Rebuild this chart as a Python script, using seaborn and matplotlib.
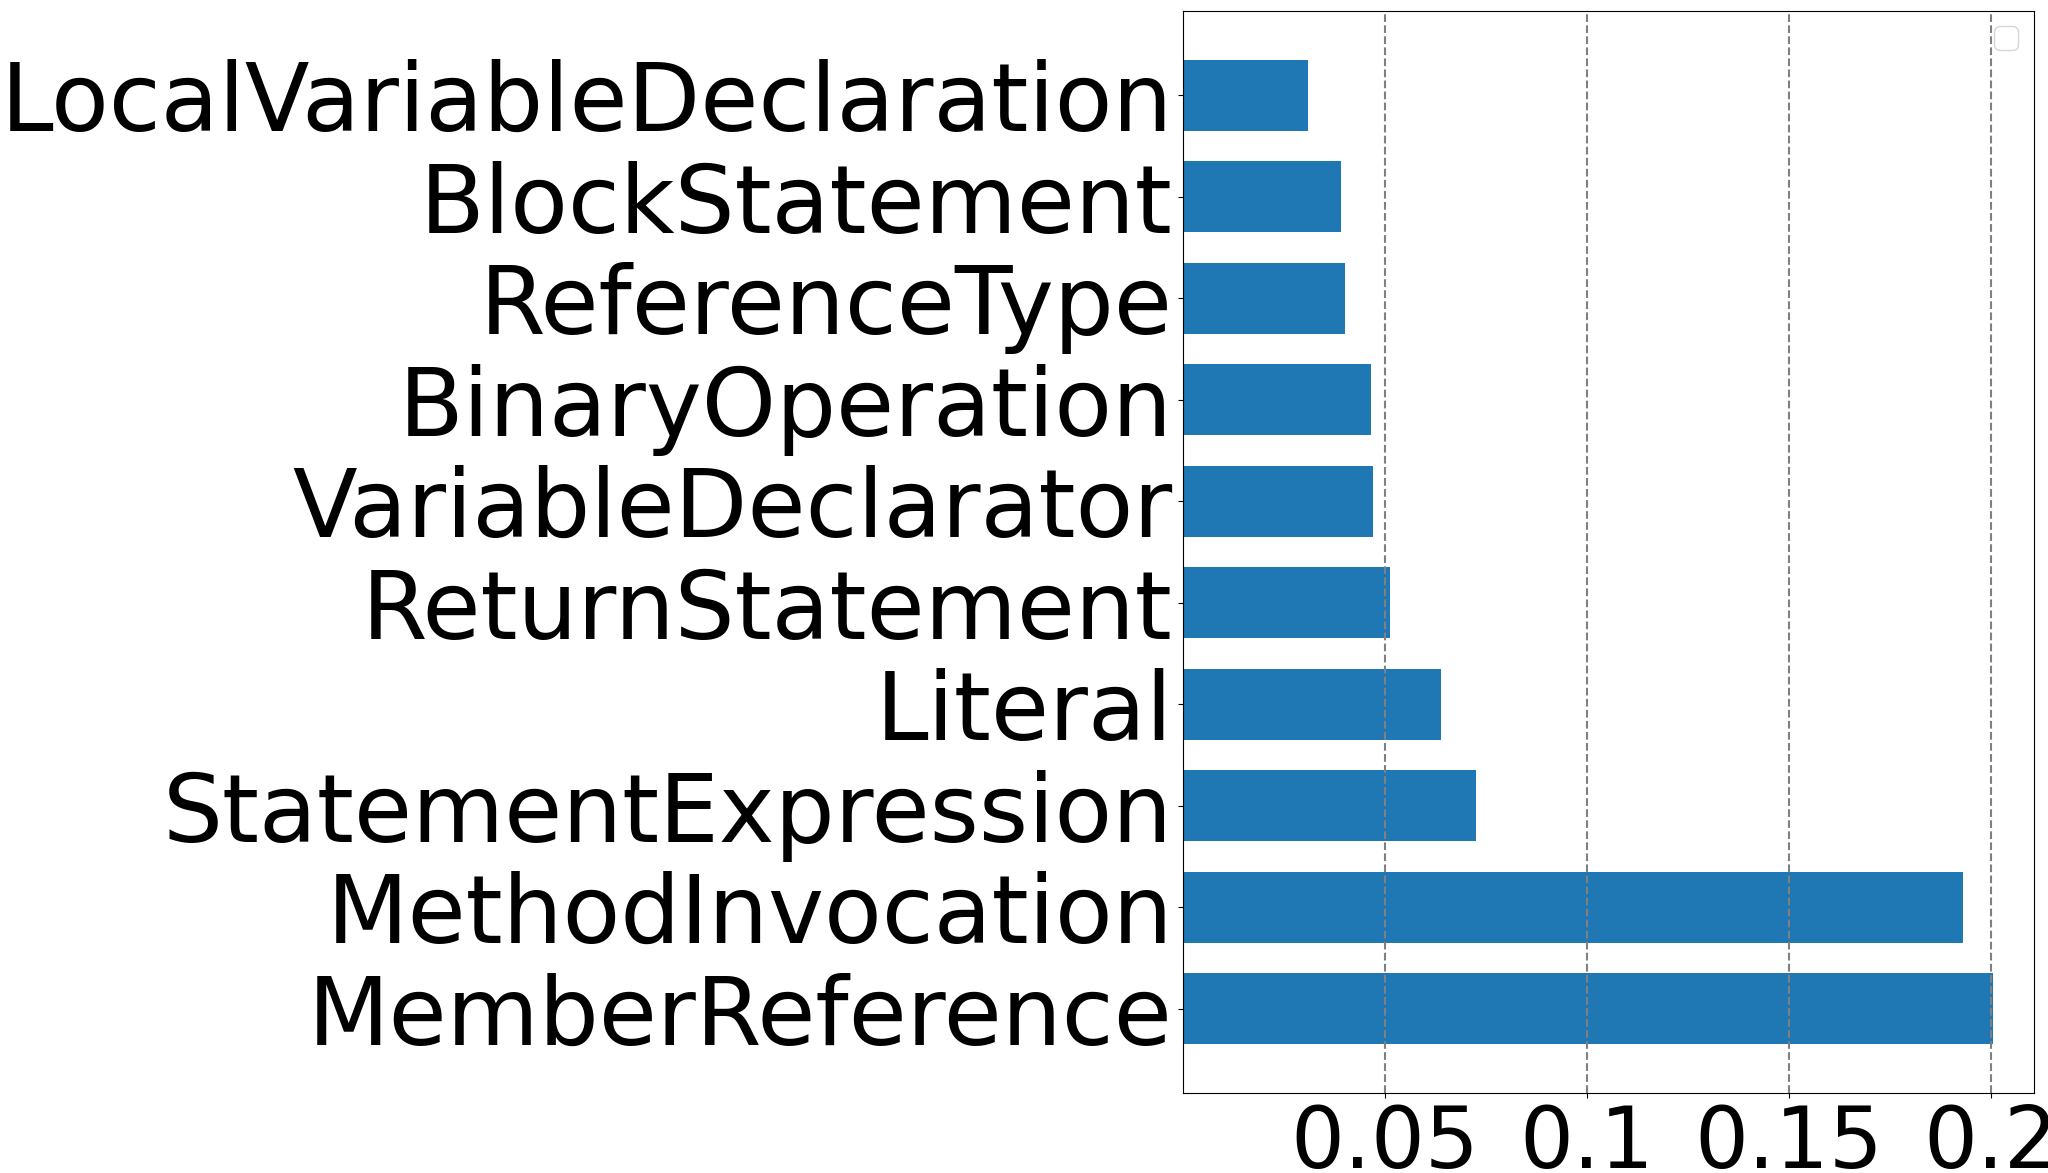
import numpy as np
import pandas as pd
import seaborn as sns
import matplotlib.pyplot as plt

# node types, top to bottom
node_types = ["LocalVariableDeclaration", "BlockStatement", "ReferenceType",
              "BinaryOperation", "VariableDeclarator", "ReturnStatement",
              "Literal", "StatementExpression", "MethodInvocation",
              "MemberReference"]
importance = [0.0310, 0.0392, 0.0402, 0.0467, 0.0472, 0.0514,
              0.0640, 0.0727, 0.1931, 0.2005]
tick_vals = [0.05, 0.1, 0.15, 0.2]
tick_labels = ["0.05", "0.1", "0.15", "0.2"]

df = pd.DataFrame({"feature": node_types, "importance": importance})

fig = plt.figure(figsize=(20.48, 11.73), dpi=100)
ax = fig.add_axes([0.5774, 0.068, 0.993 - 0.5774, 0.991 - 0.068])

sns.barplot(data=df, x="importance", y="feature", order=node_types,
            color="#1f77b4", saturation=1, width=0.7, ax=ax)

ax.set_xlabel("")
ax.set_ylabel("")
ax.set_xlim(0, max(importance) * 1.05)
n = len(node_types)
ax.set_ylim(n - 1 + 0.835, -0.835)
ax.set_xticks(tick_vals)
ax.set_xticklabels(tick_labels)
ax.tick_params(axis="y", labelsize=68)
ax.tick_params(axis="x", labelsize=61)
ax.grid(axis="x", linestyle="--", color="gray", linewidth=1.5)
ax.set_axisbelow(False)
for s in ax.spines.values():
    s.set_visible(True)
    s.set_color("black")
ax.legend(handles=[], loc="upper right", fontsize=22)

fig.savefig("out.png", dpi=100)
